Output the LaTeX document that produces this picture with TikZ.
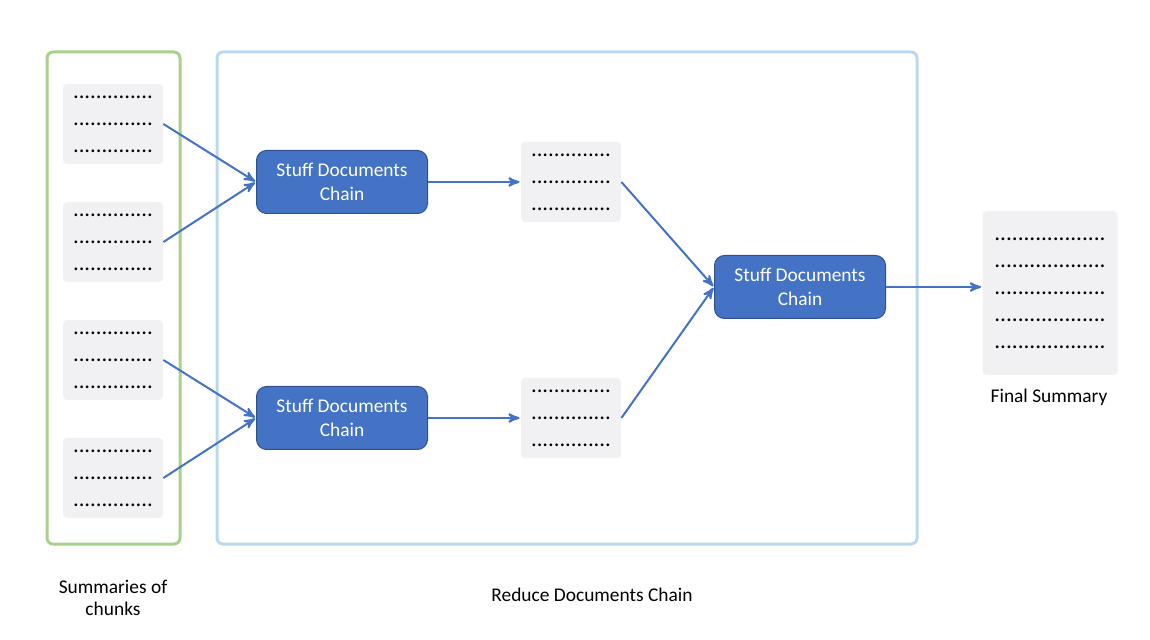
\documentclass[tikz,border=0pt]{standalone}
\usepackage{fontspec}
\setmainfont{Carlito}
\usetikzlibrary{arrows,positioning}

\definecolor{chainblue}{HTML}{4472C4}
\definecolor{chainedge}{HTML}{2F528F}
\definecolor{docgrey}{HTML}{F1F1F4}
\definecolor{chunkgreen}{HTML}{A9D18E}
\definecolor{reduceblue}{HTML}{BDD7EE}

\tikzset{
  chain/.style={draw=chainedge,fill=chainblue,rounded corners=5pt,text=white,
    minimum width=85.5pt,minimum height=31.5pt,align=center,line width=0.5pt,
    font=\fontsize{9.7}{12}\selectfont},
  doc/.style={fill=docgrey,rounded corners=2pt,minimum width=50pt,
    minimum height=40pt,align=center,inner sep=0pt,
    font=\fontsize{11.3}{13.5}\selectfont},
  frame/.style={rounded corners=3pt,line width=1.5pt,minimum height=246pt},
  label/.style={align=center,font=\fontsize{9.7}{11}\selectfont},
  flow/.style={->,>=stealth',draw=chainblue,line width=1pt,shorten >=0.5pt},
}

\newcommand{\dotrow}{..............}
\newcommand{\longrow}{...................}

\begin{document}
\begin{tikzpicture}[x=0.5pt,y=-0.5pt,node distance=59pt]
\useasboundingbox (0,0) rectangle (1150,640);

% frames
\node[frame,draw=chunkgreen,minimum width=66.5pt] (chunks) at (113.5,298) {};
\node[frame,draw=reduceblue,minimum width=350pt] (reduce) at (567,298) {};

% summaries of chunks
\node[doc] (d1) at (113,124) {\dotrow\\\dotrow\\\dotrow};
\node[doc] (d2) [below of=d1] {\dotrow\\\dotrow\\\dotrow};
\node[doc] (d3) [below of=d2] {\dotrow\\\dotrow\\\dotrow};
\node[doc] (d4) [below of=d3] {\dotrow\\\dotrow\\\dotrow};

% stuff chains
\node[chain] (c1) at (342,182) {Stuff Documents\\Chain};
\node[chain] (c2) [below of=c1, node distance=118pt] {Stuff Documents\\Chain};
\node[doc] (m1) [right of=c1, node distance=114.5pt] {\dotrow\\\dotrow\\\dotrow};
\node[doc] (m2) [right of=c2, node distance=114.5pt] {\dotrow\\\dotrow\\\dotrow};
\node[chain] (c3) at (800,287) {Stuff Documents\\Chain};

% final summary
\node[doc,minimum width=67.5pt,minimum height=82pt,font=\fontsize{11.6}{13.5}\selectfont] (fs)
  [right of=c3, node distance=125pt, yshift=-3pt]
  {\longrow\\\longrow\\\longrow\\\longrow\\\longrow};

% labels
\node[label] (chunkslabel) at (113,598) {Summaries of\\chunks};
\node[label] (reducelabel) at (592,595) {Reduce Documents Chain};
\node[label] (fslabel) at (1049,397) {Final Summary};

\path[every edge/.style={flow}]
(d1.east) edge (c1.west)
(d2.east) edge (c1.west)
(d3.east) edge (c2.west)
(d4.east) edge (c2.west)
(c1) edge (m1)
(c2) edge (m2)
(m1.east) edge (c3.west)
(m2.east) edge (c3.west)
(c3) edge (c3 -| fs.west)
;
\end{tikzpicture}
\end{document}
